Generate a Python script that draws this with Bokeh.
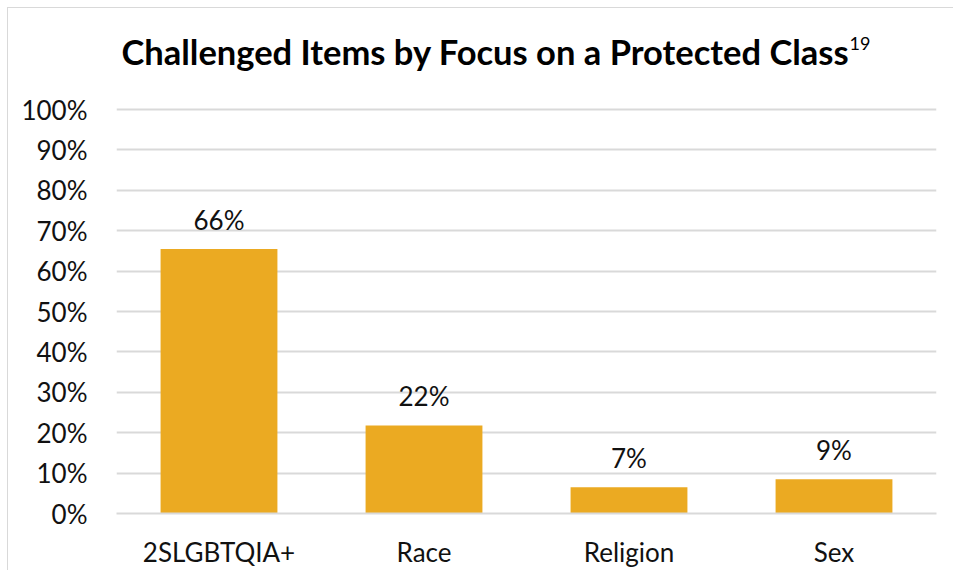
from bokeh.plotting import figure
from bokeh.models import ColumnDataSource, Range1d, NumeralTickFormatter, FixedTicker, Label
from bokeh.embed import file_html
from bokeh.resources import INLINE
from bokeh.core.properties import value

categories = ["2SLGBTQIA+", "Race", "Religion", "Sex"]
shares = [0.655, 0.218, 0.065, 0.085]
share_labels = ["66%", "22%", "7%", "9%"]
y_ticks = [0.0, 0.1, 0.2, 0.3, 0.4, 0.5, 0.6, 0.7, 0.8, 0.9, 1.0]
title_text = "Challenged Items by Focus on a Protected Class"
footnote = "19"

FONT = "Lato"
BAR = "#EBAA22"
GRID = "#D9D9D9"
TXT = "#111111"

src = ColumnDataSource(dict(cat=categories, val=shares, lab=share_labels))

# frame extends above 100% to hold the title (404 px per 100%)
p = figure(x_range=categories, y_range=Range1d(0, 500 / 404),
           frame_width=820, frame_height=500,
           output_backend="svg", toolbar_location=None,
           min_border_left=108, min_border_right=17, min_border_top=5, min_border_bottom=52)
p.styles = {"border-left": "1px solid #D9D9D9", "border-top": "1px solid #D9D9D9",
            "margin-left": "7px", "margin-top": "7px"}

p.vbar(x="cat", top="val", width=0.57, source=src, fill_color=BAR, line_color=None)
p.text(x="cat", y="val", text="lab", source=src, text_align="center",
       text_baseline="alphabetic", y_offset=-29, text_font=value(FONT),
       text_font_size="26px", text_color=TXT)

title = Label(x=733, y=462, x_units="screen", y_units="screen", text=title_text,
              text_align="right", text_baseline="alphabetic", text_font=FONT,
              text_font_size="34.5px", text_font_style="bold", text_color="#000000")
sup = Label(x=733, y=470, x_units="screen", y_units="screen", text=footnote,
            text_align="left", text_baseline="alphabetic", text_font=FONT,
            text_font_size="18px", text_color="#000000")
p.add_layout(title)
p.add_layout(sup)

p.yaxis.ticker = FixedTicker(ticks=y_ticks)
p.yaxis.formatter = NumeralTickFormatter(format="0%")
p.xgrid.grid_line_color = None
p.ygrid.grid_line_color = GRID
p.ygrid.grid_line_width = 2
p.outline_line_color = None
p.yaxis.axis_line_color = None
p.yaxis.major_tick_line_color = None
p.yaxis.minor_tick_line_color = None
p.yaxis.major_label_standoff = 23
p.xaxis.axis_line_color = GRID
p.xaxis.axis_line_width = 2
p.xaxis.major_tick_line_color = None
p.xaxis.minor_tick_line_color = None
p.xaxis.major_label_standoff = 16
for ax in (p.xaxis, p.yaxis):
    ax.major_label_text_font = FONT
    ax.major_label_text_font_size = "26px"
    ax.major_label_text_color = TXT

open("out.html", "w").write(file_html(p, INLINE))
